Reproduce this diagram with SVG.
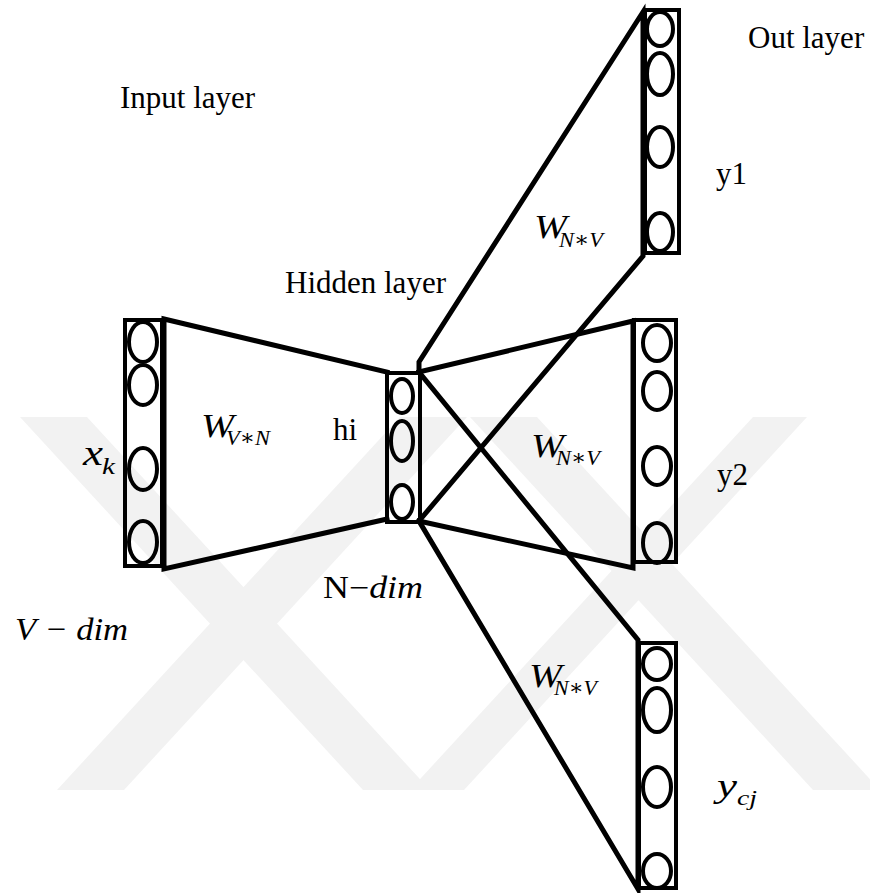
<svg xmlns="http://www.w3.org/2000/svg" width="870" height="893" viewBox="0 0 870 893">
  <style>
    .wm { fill: #f2f2f2; stroke: none; }
    .box { fill: none; stroke: #000; stroke-width: 4; }
    .unit { fill: none; stroke: #000; stroke-width: 4; }
    .conn { fill: none; stroke: #000; stroke-width: 5; stroke-linejoin: miter; stroke-linecap: square; }
    .rm { font-family: "Liberation Serif", "Times New Roman", serif; font-size: 31px; fill: #000; }
    .mi { font-family: "Liberation Serif", "DejaVu Serif", serif; font-style: italic; fill: #000; }
    .w { font-family: "Liberation Serif", "DejaVu Serif", serif; font-style: italic; fill: #000; font-size: 33px; }
    .sub { font-family: "Liberation Serif", "DejaVu Serif", serif; font-style: italic; fill: #000; font-size: 22px; }
  </style>
  <rect width="870" height="893" fill="#fff"/>

  <!-- faint background mark -->
  <g id="watermark">
    <polygon class="wm" points="20,417 87,417 430,790 363,790"/>
    <polygon class="wm" points="400,417 467,417 124,790 57,790"/>
    <polygon class="wm" points="470,417 537,417 880,790 813,790"/>
    <polygon class="wm" points="753,417 807,417 464,790 410,790"/>
  </g>

  <!-- weight connections -->
  <g id="connectors">
    <polyline class="conn" points="387,372 164,319 164,569 387,519"/>
    <polyline class="conn" points="419,372 419,362 643,12 643,256 419,521"/>
    <polyline class="conn" points="419,372 633,321 633,568 419,521"/>
    <polyline class="conn" points="419,372 638,640 638,889 419,521"/>
  </g>

  <!-- input layer -->
  <g id="input-layer">
    <rect class="box" x="125" y="320" width="37" height="246"/>
    <ellipse class="unit" cx="143" cy="342" rx="14" ry="20"/>
    <ellipse class="unit" cx="143" cy="385" rx="14" ry="20"/>
    <ellipse class="unit" cx="143" cy="469" rx="14" ry="21"/>
    <ellipse class="unit" cx="143" cy="542" rx="14" ry="21"/>
  </g>

  <!-- hidden layer -->
  <g id="hidden-layer">
    <rect class="box" x="387" y="373" width="33" height="149"/>
    <ellipse class="unit" cx="402" cy="396" rx="11" ry="17"/>
    <ellipse class="unit" cx="402" cy="441" rx="11" ry="20"/>
    <ellipse class="unit" cx="402" cy="502" rx="11" ry="17"/>
  </g>

  <!-- output y1 -->
  <g id="output-y1">
    <rect class="box" x="645" y="10" width="34" height="243"/>
    <ellipse class="unit" cx="660" cy="29" rx="13" ry="17"/>
    <ellipse class="unit" cx="660" cy="74" rx="13" ry="21"/>
    <ellipse class="unit" cx="660" cy="147" rx="13" ry="20"/>
    <ellipse class="unit" cx="660" cy="232" rx="13" ry="19"/>
  </g>

  <!-- output y2 -->
  <g id="output-y2">
    <rect class="box" x="634" y="320" width="42" height="242"/>
    <ellipse class="unit" cx="657" cy="343" rx="14" ry="18"/>
    <ellipse class="unit" cx="657" cy="391" rx="14" ry="19"/>
    <ellipse class="unit" cx="657" cy="466" rx="14" ry="19"/>
    <ellipse class="unit" cx="657" cy="543" rx="14" ry="20"/>
  </g>

  <!-- output y_cj -->
  <g id="output-ycj">
    <rect class="box" x="639" y="643" width="37" height="245"/>
    <ellipse class="unit" cx="657" cy="664" rx="14" ry="16"/>
    <ellipse class="unit" cx="657" cy="710" rx="14" ry="22"/>
    <ellipse class="unit" cx="657" cy="787" rx="14" ry="20"/>
    <ellipse class="unit" cx="657" cy="871" rx="14" ry="17"/>
  </g>

  <!-- labels -->
  <g id="labels">
    <text class="rm" x="748" y="48">Out layer</text>
    <text class="rm" x="120" y="108">Input layer</text>
    <text class="rm" x="716" y="184">y1</text>
    <text class="rm" x="285" y="293">Hidden layer</text>
    <text class="rm" x="333" y="440">hi</text>
    <text class="rm" x="717" y="485">y2</text>

    <text class="w" x="534" y="238" textLength="33" lengthAdjust="spacingAndGlyphs">W</text>
    <text class="sub" x="559" y="247" textLength="44" lengthAdjust="spacingAndGlyphs">N∗V</text>

    <text class="w" x="531" y="457" textLength="33" lengthAdjust="spacingAndGlyphs">W</text>
    <text class="sub" x="556" y="465" textLength="44" lengthAdjust="spacingAndGlyphs">N∗V</text>

    <text class="w" x="529" y="687" textLength="33" lengthAdjust="spacingAndGlyphs">W</text>
    <text class="sub" x="554" y="695" textLength="43" lengthAdjust="spacingAndGlyphs">N∗V</text>

    <text class="w" x="201" y="437" textLength="33" lengthAdjust="spacingAndGlyphs">W</text>
    <text class="sub" x="226" y="445" textLength="44" lengthAdjust="spacingAndGlyphs">V∗N</text>

    <text class="mi" x="83" y="465" font-size="36" textLength="20" lengthAdjust="spacingAndGlyphs">x</text>
    <text class="mi" x="102" y="474" font-size="23" textLength="13" lengthAdjust="spacingAndGlyphs">k</text>

    <text class="mi" x="717" y="797" font-size="34" textLength="20" lengthAdjust="spacingAndGlyphs">y</text>
    <text class="sub" x="737" y="805" textLength="20" lengthAdjust="spacingAndGlyphs">cj</text>

    <text class="mi" x="15" y="640" font-size="32" textLength="113" lengthAdjust="spacingAndGlyphs">V − dim</text>
    <text x="323" y="598" textLength="100" lengthAdjust="spacingAndGlyphs"><tspan class="rm">N−</tspan><tspan class="mi" font-size="31">dim</tspan></text>
  </g>
</svg>
